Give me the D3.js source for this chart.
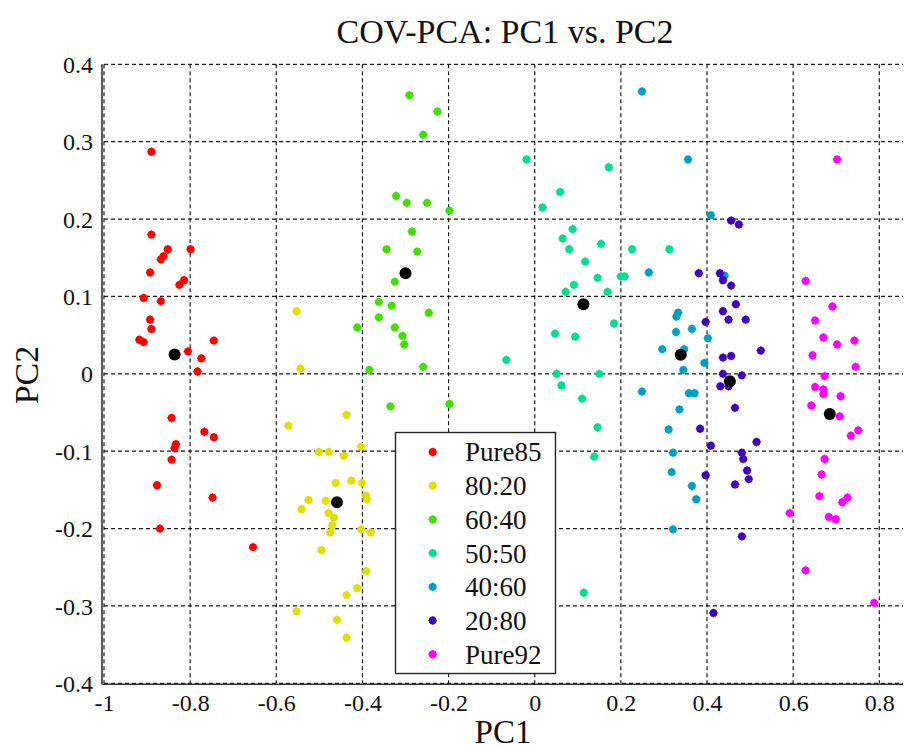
<!DOCTYPE html>
<html>
<head>
<meta charset="utf-8">
<script src="https://cdn.jsdelivr.net/npm/d3@7"></script>
<style>
  html, body { margin: 0; padding: 0; background: #fff; }
  svg { display: block; }
  text { font-family: "Liberation Serif", "Times New Roman", serif; fill: #111; }
</style>
</head>
<body>
<svg id="chart" width="904" height="750"></svg>
<script>
// ---------- data ----------
const seriesNames = ["Pure85", "80:20", "60:40", "50:50", "40:60", "20:80", "Pure92"];
const seriesColors = ["#ff0000", "#e0e000", "#40e000", "#00e08a", "#00a0c4", "#4000c0", "#ff00ff"];

const pure85 = [[-0.890,0.287],[-0.890,0.180],[-0.852,0.161],[-0.799,0.161],[-0.868,0.148],[-0.862,0.152],[-0.893,0.131],[-0.814,0.121],[-0.825,0.115],[-0.908,0.098],[-0.868,0.094],[-0.893,0.070],[-0.890,0.058],[-0.918,0.044],[-0.908,0.041],[-0.745,0.043],[-0.805,0.029],[-0.774,0.020],[-0.783,0.003],[-0.843,-0.057],[-0.767,-0.075],[-0.745,-0.082],[-0.833,-0.091],[-0.836,-0.096],[-0.843,-0.111],[-0.877,-0.144],[-0.748,-0.160],[-0.870,-0.200],[-0.654,-0.224]];
const mix8020 = [[-0.553,0.081],[-0.544,0.007],[-0.437,-0.053],[-0.572,-0.067],[-0.403,-0.094],[-0.501,-0.101],[-0.478,-0.101],[-0.443,-0.106],[-0.462,-0.141],[-0.426,-0.138],[-0.401,-0.141],[-0.392,-0.157],[-0.390,-0.162],[-0.525,-0.163],[-0.485,-0.164],[-0.541,-0.175],[-0.479,-0.180],[-0.466,-0.186],[-0.470,-0.196],[-0.475,-0.205],[-0.403,-0.201],[-0.381,-0.205],[-0.495,-0.228],[-0.391,-0.255],[-0.412,-0.277],[-0.437,-0.286],[-0.553,-0.307],[-0.459,-0.318],[-0.437,-0.341]];
const mix6040 = [[-0.291,0.360],[-0.226,0.339],[-0.259,0.309],[-0.322,0.230],[-0.297,0.221],[-0.250,0.221],[-0.198,0.211],[-0.285,0.184],[-0.344,0.161],[-0.273,0.158],[-0.325,0.119],[-0.362,0.093],[-0.332,0.088],[-0.246,0.079],[-0.362,0.073],[-0.412,0.060],[-0.325,0.060],[-0.307,0.049],[-0.303,0.038],[-0.259,0.009],[-0.384,0.005],[-0.335,-0.042],[-0.198,-0.039]];
const mix5050 = [[-0.019,0.277],[0.172,0.267],[0.059,0.235],[0.018,0.215],[0.088,0.187],[0.065,0.175],[0.154,0.168],[0.080,0.161],[0.226,0.161],[0.3125,0.161],[0.117,0.145],[0.146,0.124],[0.200,0.126],[0.209,0.126],[0.091,0.115],[0.072,0.106],[0.169,0.106],[0.184,0.065],[0.047,0.052],[0.094,0.048],[-0.066,0.018],[0.051,0.000],[0.150,0.000],[0.062,-0.015],[0.110,-0.032],[0.146,-0.069],[0.138,-0.107],[0.114,-0.283]];
const mix4060 = [[0.249,0.365],[0.356,0.277],[0.409,0.205],[0.265,0.131],[0.441,0.127],[0.333,0.079],[0.329,0.074],[0.328,0.054],[0.365,0.058],[0.402,0.046],[0.296,0.032],[0.347,0.032],[0.394,0.014],[0.345,0.005],[0.249,-0.023],[0.358,-0.025],[0.371,-0.025],[0.336,-0.046],[0.311,-0.072],[0.321,-0.102],[0.318,-0.127],[0.365,-0.145],[0.375,-0.162],[0.321,-0.201]];
const mix2080 = [[0.456,0.198],[0.474,0.193],[0.381,0.130],[0.430,0.130],[0.437,0.121],[0.456,0.114],[0.467,0.090],[0.437,0.081],[0.450,0.070],[0.490,0.070],[0.397,0.067],[0.525,0.030],[0.437,0.021],[0.456,0.023],[0.437,0.000],[0.481,-0.002],[0.431,-0.016],[0.450,-0.016],[0.465,-0.044],[0.384,-0.071],[0.515,-0.088],[0.409,-0.093],[0.481,-0.102],[0.484,-0.110],[0.493,-0.125],[0.497,-0.136],[0.397,-0.131],[0.465,-0.143],[0.481,-0.210],[0.415,-0.309]];
const pure92 = [[0.702,0.277],[0.629,0.120],[0.691,0.087],[0.651,0.069],[0.670,0.047],[0.702,0.038],[0.742,0.043],[0.645,0.024],[0.745,0.009],[0.673,-0.003],[0.651,-0.017],[0.670,-0.020],[0.670,-0.026],[0.710,-0.029],[0.642,-0.041],[0.708,-0.055],[0.751,-0.073],[0.734,-0.080],[0.673,-0.110],[0.666,-0.130],[0.661,-0.158],[0.726,-0.160],[0.714,-0.166],[0.592,-0.180],[0.683,-0.185],[0.699,-0.188],[0.629,-0.254],[0.788,-0.296]];
const centroids = [[-0.836,0.025],[-0.459,-0.166],[-0.300,0.130],[0.113,0.090],[0.339,0.0245],[0.453,-0.0095],[0.685,-0.052]];

const xTicks = [-1, -0.8, -0.6, -0.4, -0.2, 0, 0.2, 0.4, 0.6, 0.8];
const yTicks = [-0.4, -0.3, -0.2, -0.1, 0, 0.1, 0.2, 0.3, 0.4];
const xTickLabels = ["-1", "-0.8", "-0.6", "-0.4", "-0.2", "0", "0.2", "0.4", "0.6", "0.8"];
const yTickLabels = ["-0.4", "-0.3", "-0.2", "-0.1", "0", "0.1", "0.2", "0.3", "0.4"];

const allSeries = [pure85, mix8020, mix6040, mix5050, mix4060, mix2080, pure92];

// ---------- layout ----------
const svg = d3.select("#chart");
const serif = '"Liberation Serif", "Times New Roman", serif';
const pLeft = 104, pRight = 903, pTop = 64.3, pBottom = 683.3;
const x = d3.scaleLinear().domain([-1, 0.855]).range([pLeft, pRight]);
const y = d3.scaleLinear().domain([-0.4, 0.4]).range([pBottom, pTop]);

// grid
const grid = svg.append("g").attr("stroke", "#1a1a1a").attr("stroke-width", 1.2).attr("stroke-dasharray", "4,3");
grid.selectAll("line.v").data(xTicks).join("line").attr("class", "v")
  .attr("x1", d => x(d)).attr("x2", d => x(d)).attr("y1", pTop).attr("y2", pBottom);
grid.selectAll("line.h").data(yTicks).join("line").attr("class", "h")
  .attr("x1", pLeft).attr("x2", pRight).attr("y1", d => y(d)).attr("y2", d => y(d));

// axes
const xAxis = d3.axisBottom(x).tickValues(xTicks).tickFormat((d, i) => xTickLabels[i]).tickSize(0).tickPadding(10);
const yAxis = d3.axisLeft(y).tickValues(yTicks).tickFormat((d, i) => yTickLabels[i]).tickSize(0).tickPadding(9);
const gx = svg.append("g").attr("transform", `translate(0,${pBottom + 1})`).call(xAxis);
const gy = svg.append("g").attr("transform", `translate(${pLeft - 2},0)`).call(yAxis);
[gx, gy].forEach(g => {
  g.attr("font-family", null);
  g.select(".domain").attr("stroke", "#333").attr("stroke-width", 1.6);
  g.selectAll("text").style("font-family", serif).attr("font-size", 24).attr("fill", "#111");
});
gy.select(".domain").attr("d", `M0,${pTop}V${pBottom + 1}`);
gx.select(".domain").attr("d", `M${pLeft - 2},0H${pRight}`);
gy.selectAll("text").attr("dy", "0.34em");
gx.selectAll("text").attr("dy", "0.71em");

// points
function marker(g, color) {
  g.append("circle").attr("r", 3.9).attr("fill", color);
  g.append("path").attr("d", "M-4.5,0H4.5M0,-4.5V4.5").attr("stroke", color).attr("stroke-width", 1.2).attr("opacity", 0.7);
}
allSeries.forEach((data, i) => {
  const g = svg.append("g");
  g.selectAll("g").data(data).join("g")
    .attr("transform", d => `translate(${x(d[0])},${y(d[1])})`)
    .each(function () { marker(d3.select(this), seriesColors[i]); });
});

svg.append("g").selectAll("circle").data(centroids).join("circle")
  .attr("cx", d => x(d[0])).attr("cy", d => y(d[1])).attr("r", 6).attr("fill", "#000");

// legend
const lg = svg.append("g");
lg.append("rect").attr("x", 395.5).attr("y", 432.5).attr("width", 160).attr("height", 241)
  .attr("fill", "#fff").attr("stroke", "#222").attr("stroke-width", 1.4);
seriesNames.forEach((name, i) => {
  const cy = 452 + i * 33.7;
  const g = lg.append("g").attr("transform", `translate(432.7,${cy})`);
  marker(g, seriesColors[i]);
  lg.append("text").attr("x", 465).attr("y", cy).attr("dy", "0.35em")
    .style("font-family", serif).attr("font-size", 27).text(name);
});

// titles
svg.append("text").attr("x", 505).attr("y", 43).attr("text-anchor", "middle")
  .style("font-family", serif).attr("font-size", 34).text("COV-PCA: PC1 vs. PC2");
svg.append("text").attr("x", 503).attr("y", 743).attr("text-anchor", "middle")
  .style("font-family", serif).attr("font-size", 33).text("PC1");
svg.append("text").attr("transform", "translate(38,375) rotate(-90)").attr("text-anchor", "middle")
  .style("font-family", serif).attr("font-size", 34).text("PC2");
</script>
</body>
</html>
